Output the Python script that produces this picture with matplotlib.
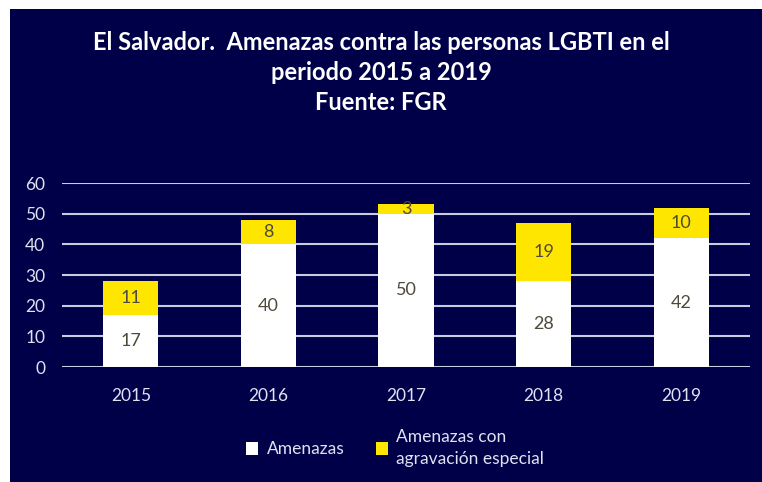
import matplotlib.pyplot as plt
from matplotlib.patches import Rectangle

years = ['2015', '2016', '2017', '2018', '2019']
amenazas = [17, 40, 50, 28, 42]
agravacion = [11, 8, 3, 19, 10]

navy = '#000048'
yellow = '#ffe600'
label_color = '#4d4a3a'
tick_color = '#dfe2f2'

plt.rcParams['font.family'] = ['Lato', 'DejaVu Sans']

fig = plt.figure(figsize=(7.62, 4.82), dpi=100)
fig.patch.set_facecolor('white')
fig.patches.append(Rectangle((10 / 762, 0), 1, 1 - 9 / 482, transform=fig.transFigure,
                             facecolor=navy, edgecolor='none', zorder=-1))

ax = fig.add_axes([62 / 762, (482 - 367) / 482, (750 - 62) / 762, (367 - 183) / 482])
ax.set_facecolor(navy)

x = range(len(years))
b1 = ax.bar(x, amenazas, width=0.4, color='white', zorder=3, label='Amenazas')
b2 = ax.bar(x, agravacion, width=0.4, bottom=amenazas, color=yellow, zorder=3,
            label='Amenazas con\nagravación especial')

for i in x:
    ax.text(i, amenazas[i] / 2, str(amenazas[i]), ha='center', va='center',
            fontsize=13, color=label_color, zorder=4)
    ax.text(i, amenazas[i] + agravacion[i] / 2, str(agravacion[i]), ha='center', va='center',
            fontsize=13, color=label_color, zorder=4)

ax.set_xlim(-0.5, 4.5)
ax.set_ylim(0, 60)
ax.set_yticks(range(0, 61, 10))
ax.set_xticks(list(x))
ax.set_xticklabels(years)
ax.tick_params(colors=tick_color, labelsize=12.5, length=0)
ax.tick_params(axis='x', pad=15)
ax.tick_params(axis='y', pad=12)
ax.yaxis.grid(True, color='#c8cce0', linewidth=1.5, zorder=0)
for s in ax.spines.values():
    s.set_visible(False)

fig.text(0.5, 1 - 42 / 482, 'El Salvador.  Amenazas contra las personas LGBTI en el',
         ha='center', va='center', fontsize=17, fontweight='bold', color='white')
fig.text(0.5, 1 - 72 / 482, 'periodo 2015 a 2019',
         ha='center', va='center', fontsize=17, fontweight='bold', color='white')
fig.text(0.5, 1 - 103 / 482, 'Fuente: FGR',
         ha='center', va='center', fontsize=17, fontweight='bold', color='white')

leg = fig.legend(handles=[b1, b2], loc='center', bbox_to_anchor=(395 / 762, 1 - 448 / 482),
                 ncol=2, frameon=False, fontsize=12.5, handlelength=0.7, handleheight=0.7,
                 columnspacing=1.8, handletextpad=0.5)
for t in leg.get_texts():
    t.set_color(tick_color)
    t.set_linespacing(1.5)

fig.savefig('out.png', dpi=100, facecolor=fig.get_facecolor())
